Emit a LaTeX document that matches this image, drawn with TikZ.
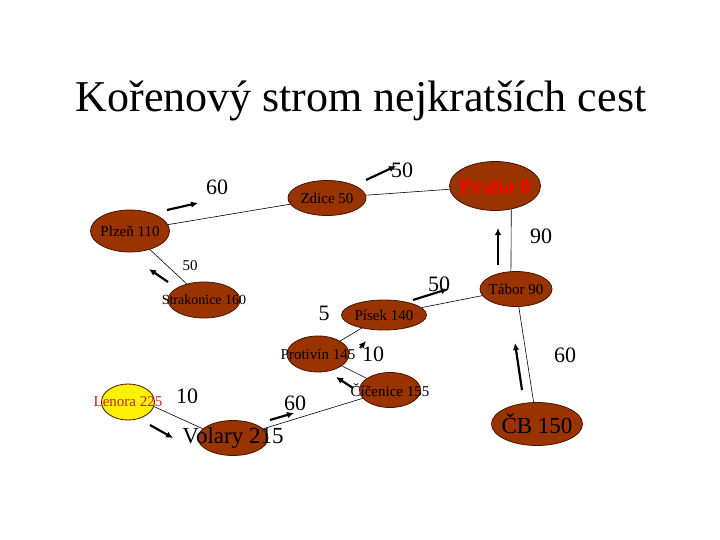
\documentclass[tikz,border=0pt]{standalone}
\usepackage{fontspec}
\setmainfont{Liberation Serif}
\usepackage{xcolor}
\usetikzlibrary{arrows.meta,shapes.geometric}
\definecolor{cityfill}{RGB}{153,51,0}
\definecolor{cityline}{RGB}{70,20,0}
\definecolor{lenoratext}{RGB}{190,40,40}
\newcommand{\fsz}[1]{\fontsize{#1pt}{#1pt}\selectfont}
\newcommand{\cityname}[1]{\makebox[0pt]{#1}}

\begin{document}
\begin{tikzpicture}[x=1pt, y=-1pt, >={Latex[length=7pt,width=6.5pt]}]
  \tikzset{city/.style={draw=cityline, line width=0.8pt, fill=cityfill, ellipse, inner sep=0pt, font=\fsz{15}},
           edge/.style={draw, line width=0.6pt},
           dir/.style={->, line width=2.2pt},
           wt/.style={font=\fsz{22}, inner sep=0pt}}
  \useasboundingbox (0,0) rectangle (720,540);

  \node[font=\fsz{44}, anchor=base] (title) at (361,112) {Kořenový strom nejkratších cest};

  % towns
  \node[city, minimum width=91pt, minimum height=49pt, text=red, font=\fsz{21}\bfseries] (praha) at (495,186) {\cityname{Praha 0}};
  \node[city, minimum width=78pt, minimum height=35pt] (zdice)  at (327,198) {\cityname{Zdice 50}};
  \node[city, minimum width=79pt, minimum height=42pt] (plzen)  at (130,231) {\cityname{Plzeň 110}};
  \node[city, minimum width=72pt, minimum height=36pt, font=\fsz{14}] (strak) at (204,300) {\cityname{Strakonice 160}};
  \node[city, minimum width=72pt, minimum height=35pt] (tabor)  at (516,289) {\cityname{Tábor 90}};
  \node[city, minimum width=85pt, minimum height=30pt] (pisek)  at (384,315) {\cityname{Písek 140}};
  \node[city, minimum width=62pt, minimum height=36pt] (protivin) at (318,354) {\cityname{Protivín 145}};
  \node[city, minimum width=61pt, minimum height=35pt] (cicenice) at (390,390) {\cityname{Číčenice 155}};
  \node[city, minimum width=91pt, minimum height=43pt, font=\fsz{23}] (cb) at (537,424) {\cityname{ČB 150}};
  \node[city, minimum width=53pt, minimum height=36pt, fill=yellow, text=lenoratext] (lenora) at (128,402) {\cityname{Lenora 225}};
  \node[city, minimum width=70pt, minimum height=35pt, font=\fsz{23}] (volary) at (233,438) {\cityname{Volary 215}};

  % tree edges
  \draw[edge] (plzen) -- (zdice);
  \draw[edge] (zdice) -- (praha);
  \draw[edge] (praha.-55) -- (tabor.106);
  \draw[edge] (plzen) -- (strak);
  \draw[edge] (tabor) -- (pisek);
  \draw[edge] (pisek) -- (protivin);
  \draw[edge] (protivin) -- (cicenice);
  \draw[edge] (cicenice) -- (volary);
  \draw[edge] (lenora.-10) -- (volary.163);
  \draw[edge] (tabor) -- (cb);

  % edge weights
  \node[wt] (w1)  at (217,187) {60};
  \node[wt] (w2)  at (402,170) {50};
  \node[wt] (w3)  at (541,236) {90};
  \node[wt, font=\fsz{15}] (w4) at (190,266) {50};
  \node[wt] (w5)  at (439,284) {50};
  \node[wt] (w6)  at (324,313) {5};
  \node[wt] (w7)  at (373,354) {10};
  \node[wt] (w8)  at (565,355) {60};
  \node[wt] (w9)  at (187,396) {10};
  \node[wt] (w10) at (295,403) {60};

  % direction of the paths
  \foreach \n/\xa/\ya/\xb/\yb in {d1/167/210/198/203, d2/366/180/396/166,
                                  d3/498/265/498/228, d4/168/282/149/269,
                                  d5/413/300/448/289, d6/360/348/366/341,
                                  d7/353/388/336/377, d8/522/390/515/343,
                                  d9/150/425/173/438, d10/270/420/294/413} {
    \coordinate (\n-s) at (\xa,\ya);
    \coordinate (\n-e) at (\xb,\yb);
    \draw[dir] (\n-s) -- (\n-e);
  }
\end{tikzpicture}
\end{document}
